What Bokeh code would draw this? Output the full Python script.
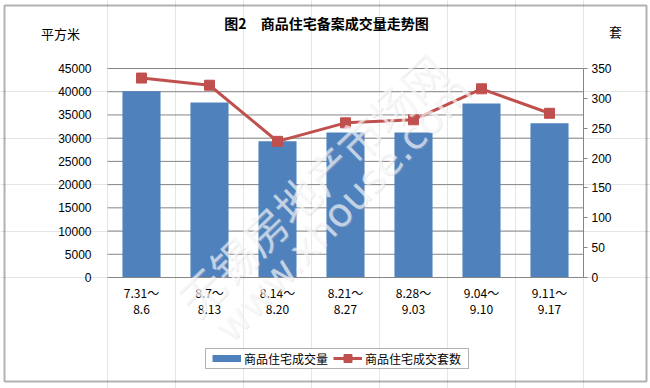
from bokeh.plotting import figure
from bokeh.models import (Range1d, LinearAxis, FixedTicker, Label, Legend,
                          LegendItem, ColumnDataSource, BoxAnnotation)
from bokeh.embed import file_html
from bokeh.resources import INLINE
import math

# ---------------- data ----------------
categories = ["7.31～\n8.6", "8.7～\n8.13", "8.14～\n8.20", "8.21～\n8.27",
              "8.28～\n9.03", "9.04～\n9.10", "9.11～\n9.17"]
area_values = [40100, 37700, 29350, 31200, 31200, 37450, 33200]
unit_values = [334, 322, 228, 259, 264, 316, 275]
left_ticks = [0, 5000, 10000, 15000, 20000, 25000, 30000, 35000, 40000, 45000]
right_ticks = [0, 50, 100, 150, 200, 250, 300, 350]

title_text = "图2\u3000商品住宅备案成交量走势图"
left_unit = "平方米"
right_unit = "套"
bar_name = "商品住宅成交量"
line_name = "商品住宅成交套数"
wm_cn = "无锡房地产市场网"
wm_en = "www.xhouse.com"

# ---------------- layout (canvas pixels) ----------------
CW, CH = 650, 388
PL, PR, PT, PB = 107, 583, 68, 277          # plot area inside canvas
CJK = "Noto Sans CJK SC"
n = len(categories)
LMAX, RMAX = left_ticks[-1], right_ticks[-1]

xs = n / (PR - PL)
ys = LMAX / (PB - PT)
rs = RMAX / (PB - PT)
x_range = Range1d(-PL * xs, n + (CW - PR) * xs)
y_range = Range1d(-(CH - PB) * ys, LMAX + PT * ys)
r_range = Range1d(-(CH - PB) * rs, RMAX + PT * rs)

pos = [i + 0.5 for i in range(n)]
src = ColumnDataSource(dict(x=pos, area=area_values, units=unit_values))
grid_src = ColumnDataSource(dict(y=left_ticks[1:], x0=[0] * (len(left_ticks) - 1),
                                 x1=[n] * (len(left_ticks) - 1)))

p = figure(width=CW, height=CH, output_backend="svg", toolbar_location=None,
           x_range=x_range, y_range=y_range, min_border=0,
           x_axis_location=None, y_axis_location=None)
p.extra_y_ranges = {"right": r_range}
p.outline_line_color = None
p.background_fill_color = "white"
p.border_fill_color = "white"

p.segment(x0="x0", x1="x1", y0="y", y1="y", source=grid_src,
          line_color="#868686", line_width=1)
bars = p.vbar(x="x", top="area", width=0.56, source=src,
              fill_color="#4F81BD", line_color=None)
ln = p.line(x="x", y="units", source=src, y_range_name="right",
            line_color="#C0504D", line_width=3)
mk = p.scatter(x="x", y="units", source=src, y_range_name="right",
               marker="square", size=10, fill_color="#C0504D",
               line_color="#C0504D")

# ---------------- axes ----------------
xax = LinearAxis(fixed_location=0, bounds=(0, n),
                 ticker=FixedTicker(ticks=pos),
                 major_label_overrides={pp: c for pp, c in zip(pos, categories)})
xax.axis_line_color = "#868686"
xax.major_tick_line_color = None
xax.minor_tick_line_color = None
xax.major_label_text_font = CJK
xax.major_label_text_font_size = "12px"
xax.major_label_text_color = "black"
xax.major_label_text_line_height = 0.95
xax.major_label_standoff = 0
p.add_layout(xax, "below")

lax = LinearAxis(fixed_location=0, bounds=(0, LMAX),
                 ticker=FixedTicker(ticks=left_ticks))
lax.axis_line_color = None
lax.major_tick_line_color = None
lax.minor_tick_line_color = None
lax.major_label_text_font = "Liberation Sans"
lax.major_label_text_font_size = "12px"
lax.major_label_text_color = "black"
lax.major_label_standoff = 10
p.add_layout(lax, "left")

rax = LinearAxis(y_range_name="right", fixed_location=n, bounds=(0, RMAX),
                 ticker=FixedTicker(ticks=right_ticks))
rax.axis_line_color = "#868686"
rax.major_tick_line_color = "#868686"
rax.major_tick_in = 0
rax.major_tick_out = 4
rax.minor_tick_line_color = None
rax.major_label_text_font = "Liberation Sans"
rax.major_label_text_font_size = "12px"
rax.major_label_text_color = "black"
rax.major_label_standoff = 4
p.add_layout(rax, "right")

# ---------------- texts ----------------
p.add_layout(Label(x=326, y=CH - 22, x_units="screen", y_units="screen",
                   text=title_text, text_align="center", text_baseline="middle",
                   text_font=CJK, text_font_size="14px", text_font_style="bold",
                   text_color="black"))
p.add_layout(Label(x=60, y=CH - 33, x_units="screen", y_units="screen",
                   text=left_unit, text_align="center", text_baseline="middle",
                   text_font=CJK, text_font_size="13px", text_color="black"))
p.add_layout(Label(x=615, y=CH - 31, x_units="screen", y_units="screen",
                   text=right_unit, text_align="center", text_baseline="middle",
                   text_font=CJK, text_font_size="13px", text_color="black"))

# ---------------- legend ----------------
proxy = p.line(x=pos[:1], y=area_values[:1], line_color="#4F81BD",
               line_width=7, line_cap="butt")
p.add_layout(BoxAnnotation(left=205, right=468, bottom=CH - 368, top=CH - 348,
                           left_units="screen", right_units="screen",
                           bottom_units="screen", top_units="screen",
                           fill_color="white", fill_alpha=1.0,
                           line_color="black", line_width=1))
legend = Legend(items=[LegendItem(label=bar_name, renderers=[proxy]),
                       LegendItem(label=line_name, renderers=[ln, mk])],
                orientation="horizontal", location=(212, CH - 368))
legend.border_line_color = None
legend.background_fill_alpha = 0
legend.label_text_font = CJK
legend.label_text_font_size = "12px"
legend.label_text_color = "black"
legend.glyph_width = 29
legend.glyph_height = 20
legend.label_height = 20
legend.label_standoff = 3
legend.spacing = 5
legend.padding = 0
legend.margin = 0
p.add_layout(legend, "center")

# ---------------- watermark ----------------
for txt, x, y, size, font, ang in [(wm_cn, 311, CH - 183, "44px", CJK, 44),
                                   (wm_en, 342, CH - 208, "40px", "DejaVu Sans", 46)]:
    p.add_layout(Label(x=x + 1, y=y - 1, x_units="screen", y_units="screen",
                       text=txt, angle=math.radians(ang), text_align="center",
                       text_baseline="middle", text_font=font,
                       text_font_size=size, text_color="#bdbdbd",
                       text_alpha=0.3))
    p.add_layout(Label(x=x, y=y, x_units="screen", y_units="screen",
                       text=txt, angle=math.radians(ang), text_align="center",
                       text_baseline="middle", text_font=font,
                       text_font_size=size, text_color="white",
                       text_alpha=0.6))

# ---------------- outer border ----------------
p.add_layout(BoxAnnotation(left=4, right=646, bottom=CH - 381, top=CH - 5,
                           left_units="screen", right_units="screen",
                           bottom_units="screen", top_units="screen",
                           fill_alpha=0, line_color="black", line_width=2))

open("out.html", "w").write(file_html(p, INLINE))
